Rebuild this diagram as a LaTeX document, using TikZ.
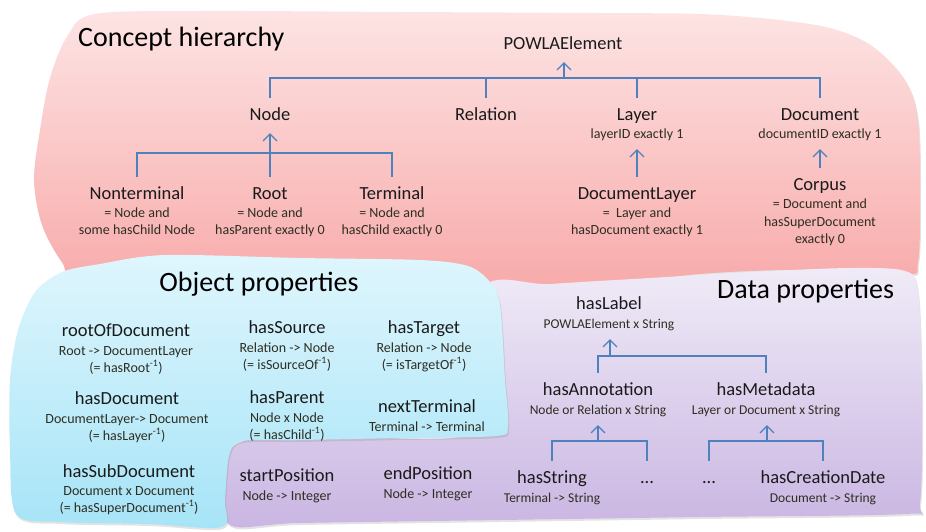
\documentclass[tikz,border=0pt]{standalone}
\usepackage{fontspec}
\setmainfont{Carlito}
\usetikzlibrary{arrows.meta,shadows}
\definecolor{labcol}{HTML}{1A1A1A}
\definecolor{subcol}{HTML}{2E2E22}
\definecolor{lineblue}{HTML}{4F81BD}
\definecolor{pinktop}{HTML}{FDE4E4}
\definecolor{pinkbot}{HTML}{F8A9A9}
\definecolor{bluetop}{HTML}{DFF6FD}
\definecolor{bluebot}{HTML}{A6E4F7}
\definecolor{purptop}{HTML}{F0EBF7}
\definecolor{purpbot}{HTML}{C9B5E2}
\tikzset{
 lab/.style={font=\fontsize{18.5}{22}\selectfont, text=labcol, anchor=base, inner xsep=1pt, inner ysep=9pt, text height=13pt, text depth=4pt},
 sub/.style={font=\fontsize{14}{17}\selectfont, text=subcol, anchor=base, inner xsep=1pt, inner ysep=8pt, text height=10pt, text depth=3pt},
 dsub/.style={sub, font=\fontsize{13.5}{16}\selectfont},
 ttl/.style={font=\fontsize{28}{32}\selectfont, text=black, anchor=base west, inner sep=0pt},
 conn/.style={draw=lineblue, line width=1.1pt},
 arr/.style={conn, -{Straight Barb[length=7pt,width=14pt]}},
 blob/.style={drop shadow={shadow xshift=1pt, shadow yshift=-2pt, opacity=0.22}}
}
\newcommand{\inv}{\textsuperscript{-1}}
\begin{document}
\begin{tikzpicture}[x=1pt,y=-1pt]
\useasboundingbox (0,0) rectangle (926,531);
% ---------- blobs ----------
\path[blob, top color=pinktop, bottom color=pinkbot] plot[smooth cycle, tension=0.55] coordinates {
 (95,14) (200,11) (400,12) (600,13) (700,14) (770,19) (830,28) (872,46) (905,80) (918,120) (920,200) (918,262) (905,275)
 (800,270) (700,274) (600,286) (500,292) (400,278) (200,272) (80,276) (62,262) (42,225) (34,180) (40,130) (50,78) (68,35)};
\path[blob, top color=purptop, bottom color=purpbot] plot[smooth cycle, tension=0.5] coordinates {
 (482,290) (550,284) (650,278) (750,272) (850,268) (905,271) (918,292) (922,400) (920,503) (905,514)
 (700,517) (500,520) (300,523) (230,525) (225,480) (235,445) (300,433) (480,430)};
\path[blob, top color=bluetop, bottom color=bluebot] plot[smooth cycle, tension=0.5] coordinates {
 (100,264) (165,255) (300,258) (420,260) (468,266) (490,282) (500,305) (505,380) (508,426) (496,436)
 (400,438) (300,440) (242,441) (229,456) (225,500) (222,527) (150,524) (60,522) (16,514) (10,450) (10,380) (18,330) (35,292) (62,272)};
% ---------- titles ----------
\node[ttl] (tConcept) at (78,46) {Concept hierarchy};
\node[ttl, anchor=base] (tObject) at (259,291) {Object properties};
\node[ttl] (tData) at (717,298) {Data properties};
% ---------- concept hierarchy ----------
\node[lab] (pow) at (563,49) {POWLAElement};
\node[lab] (node) at (270,120) {Node};
\node[lab] (rel) at (486,120) {Relation};
\node[lab] (layer) at (637,120) {Layer};
\node[sub] (layerS) at (637,138) {layerID exactly 1};
\node[lab] (doc) at (820,120) {Document};
\node[sub] (docS) at (820,138) {documentID exactly 1};
\node[lab] (nt) at (137,199) {Nonterminal};
\node[sub] (ntS1) at (137,217) {= Node and};
\node[sub] (ntS2) at (137,234) {some hasChild Node};
\node[lab] (root) at (270,199) {Root};
\node[sub] (rootS1) at (270,217) {= Node and};
\node[sub] (rootS2) at (270,234) {hasParent exactly 0};
\node[lab] (term) at (392,199) {Terminal};
\node[sub] (termS1) at (392,217) {= Node and};
\node[sub] (termS2) at (392,234) {hasChild exactly 0};
\node[lab] (dl) at (637,199) {DocumentLayer};
\node[sub] (dlS1) at (637,217) {=\ \ Layer and};
\node[sub] (dlS2) at (637,234) {hasDocument exactly 1};
\node[lab] (corpus) at (820,190) {Corpus};
\node[sub] (corpusS1) at (820,208) {= Document and};
\node[sub] (corpusS2) at (820,226) {hasSuperDocument};
\node[sub] (corpusS3) at (820,243) {exactly 0};
\coordinate (jPow) at (564,78);
\coordinate (jNode) at (270,153);
\draw[arr] (jPow) -- (pow.south -| jPow);
\draw[conn] (node.north) -- (node.north |- jPow) -- (doc.north |- jPow) -- (doc.north);
\draw[conn] (rel.north) -- (rel.north |- jPow);
\draw[conn] (layer.north) -- (layer.north |- jPow);
\draw[arr] (root.north) -- (node.south);
\draw[conn] (nt.north) -- (nt.north |- jNode) -- (term.north |- jNode) -- (term.north);
\draw[arr] (dl.north) -- (layerS.south);
\draw[arr] (corpus.north) -- (docS.south);
% ---------- object properties ----------
\node[lab] (rod) at (126,336) {rootOfDocument};
\node[sub] (rodS1) at (126,355) {Root -> DocumentLayer};
\node[sub] (rodS2) at (126,372) {(= hasRoot\inv)};
\node[lab] (hdoc) at (127,404) {hasDocument};
\node[sub] (hdocS1) at (127,423) {DocumentLayer-> Document};
\node[sub] (hdocS2) at (127,440) {(= hasLayer\inv)};
\node[lab] (hsub) at (129,477) {hasSubDocument};
\node[sub] (hsubS1) at (129,495) {Document x Document};
\node[sub] (hsubS2) at (129,512) {(= hasSuperDocument\inv)};
\node[lab] (hsrc) at (287,333) {hasSource};
\node[sub] (hsrcS1) at (287,352) {Relation -> Node};
\node[sub] (hsrcS2) at (287,369) {(= isSourceOf\inv)};
\node[lab] (htgt) at (424,333) {hasTarget};
\node[sub] (htgtS1) at (424,352) {Relation -> Node};
\node[sub] (htgtS2) at (424,369) {(= isTargetOf\inv)};
\node[lab] (hpar) at (287,403) {hasParent};
\node[sub] (hparS1) at (287,422) {Node x Node};
\node[sub] (hparS2) at (287,439) {(= hasChild\inv)};
\node[lab] (nterm) at (427,412) {nextTerminal};
\node[sub] (ntermS) at (427,431) {Terminal -> Terminal};
% ---------- data properties ----------
\node[lab] (spos) at (287,481) {startPosition};
\node[sub] (sposS) at (287,500) {Node -> Integer};
\node[lab] (epos) at (428,479) {endPosition};
\node[sub] (eposS) at (428,498) {Node -> Integer};
\node[lab] (hlab) at (609,309) {hasLabel};
\node[dsub] (hlabS) at (609,328) {POWLAElement x String};
\node[lab] (hann) at (598,395) {hasAnnotation};
\node[dsub] (hannS) at (598,414) {Node or Relation x String};
\node[lab] (hmeta) at (766,395) {hasMetadata};
\node[dsub] (hmetaS) at (766,414) {Layer or Document x String};
\node[lab] (hstr) at (552,483) {hasString};
\node[dsub] (hstrS) at (552,502) {Terminal -> String};
\node[lab] (dots1) at (647,483) {...};
\node[lab] (dots2) at (709,483) {...};
\node[lab] (hcd) at (823,483) {hasCreationDate};
\node[dsub] (hcdS) at (823,502) {Document -> String};
\coordinate (jLab) at (610,356);
\coordinate (jAnn) at (598,441);
\coordinate (jMeta) at (767,441);
\draw[arr] (jLab) -- (hlabS.south -| jLab);
\draw[conn] (hann.north) -- (hann.north |- jLab) -- (hmeta.north |- jLab) -- (hmeta.north);
\draw[arr] (jAnn) -- (hannS.south -| jAnn);
\draw[conn] (hstr.north) -- (hstr.north |- jAnn) -- (dots1.north |- jAnn) -- (dots1.north);
\draw[arr] (jMeta) -- (hmetaS.south -| jMeta);
\draw[conn] (dots2.north) -- (dots2.north |- jMeta) -- (hcd.north |- jMeta) -- (hcd.north);
\end{tikzpicture}
\end{document}
